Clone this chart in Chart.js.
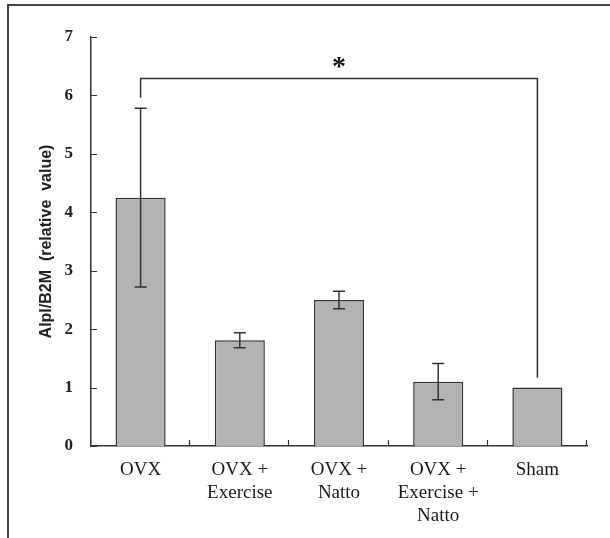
<!DOCTYPE html>
<html lang="en">
<head>
    <meta charset="UTF-8">
    <title>Alpl/B2M</title>
    <script src="https://cdn.jsdelivr.net/npm/chart.js"></script>
    <style>
        body {
            margin: 0;
            background: #fff;
        }
        .wrap {
            position: relative;
            width: 610px;
            height: 538px;
        }
        .frame {
            position: absolute;
            left: 7px;
            top: 4px;
            right: -10px;
            bottom: -10px;
            border-left: 2px solid #444;
            border-top: 2px solid #444;
            pointer-events: none;
        }
    </style>
</head>
<body>
<div class="wrap">
    <canvas id="chart" width="610" height="538"></canvas>
    <div class="frame"></div>
</div>

<script>
const categories = [['OVX'], ['OVX +', 'Exercise'], ['OVX +', 'Natto'], ['OVX +', 'Exercise +', 'Natto'], ['Sham']];
const means = [4.25, 1.81, 2.50, 1.10, 1.00];
const errors = [1.53, 0.13, 0.15, 0.31, 0];
const yTickLabels = ['0', '1', '2', '3', '4', '5', '6', '7'];

// significance bracket between OVX and Sham
const bracketFrom = 0;
const bracketTo = 4;
const bracketLevel = 6.29;
const bracketLeftEnd = 5.96;
const bracketRightEnd = 1.17;
const starLevel = 6.57;

const ink = '#333';

// error bars
const errorBars = {
    id: 'errorBars',
    afterDatasetsDraw(chart) {
        const ctx = chart.ctx;
        const x = chart.scales.x, y = chart.scales.y;
        ctx.save();
        ctx.strokeStyle = ink;
        ctx.lineWidth = 1.5;
        means.forEach((m, i) => {
            if (!errors[i]) return;
            const px = x.getPixelForValue(i);
            const top = y.getPixelForValue(m + errors[i]);
            const bot = y.getPixelForValue(m - errors[i]);
            ctx.beginPath();
            ctx.moveTo(px, top); ctx.lineTo(px, bot);
            ctx.moveTo(px - 6, top); ctx.lineTo(px + 6, top);
            ctx.moveTo(px - 6, bot); ctx.lineTo(px + 6, bot);
            ctx.stroke();
        });
        ctx.restore();
    }
};

// tick marks pointing into the plot
const innerTicks = {
    id: 'innerTicks',
    afterDraw(chart) {
        const ctx = chart.ctx;
        const x = chart.scales.x, y = chart.scales.y;
        const area = chart.chartArea;
        ctx.save();
        ctx.strokeStyle = ink;
        ctx.lineWidth = 1.2;
        ctx.beginPath();
        y.ticks.forEach(t => {
            const py = Math.round(y.getPixelForValue(t.value)) + 0.5;
            ctx.moveTo(area.left, py); ctx.lineTo(area.left + 6, py);
        });
        const half = (x.getPixelForValue(1) - x.getPixelForValue(0)) / 2;
        categories.forEach((c, i) => {
            const px = Math.round(x.getPixelForValue(i) + half) - 0.5;
            ctx.moveTo(px, area.bottom); ctx.lineTo(px, area.bottom - 6);
        });
        ctx.stroke();
        ctx.restore();
    }
};

// bracket and asterisk
const bracket = {
    id: 'bracket',
    afterDraw(chart) {
        const ctx = chart.ctx;
        const x = chart.scales.x, y = chart.scales.y;
        const x1 = x.getPixelForValue(bracketFrom);
        const x2 = x.getPixelForValue(bracketTo);
        const yl = y.getPixelForValue(bracketLevel);
        ctx.save();
        ctx.strokeStyle = ink;
        ctx.lineWidth = 1.5;
        ctx.beginPath();
        ctx.moveTo(x1, y.getPixelForValue(bracketLeftEnd));
        ctx.lineTo(x1, yl);
        ctx.lineTo(x2, yl);
        ctx.lineTo(x2, y.getPixelForValue(bracketRightEnd));
        ctx.stroke();
        ctx.fillStyle = '#111';
        ctx.font = 'bold 28px "Liberation Serif"';
        ctx.textAlign = 'center';
        ctx.textBaseline = 'middle';
        ctx.fillText('*', (x1 + x2) / 2, y.getPixelForValue(starLevel) + 6);
        ctx.restore();
    }
};

new Chart(document.getElementById('chart'), {
    type: 'bar',
    data: {
        labels: categories,
        datasets: [{
            data: means,
            backgroundColor: '#b3b3b3',
            borderColor: ink,
            borderWidth: 1.5,
            barPercentage: 0.505,
            categoryPercentage: 1
        }]
    },
    options: {
        responsive: false,
        animation: false,
        layout: { padding: { left: 30, right: 23, top: 37, bottom: 0 } },
        plugins: {
            legend: { display: false },
            tooltip: { enabled: false }
        },
        scales: {
            x: {
                grid: { display: false, drawTicks: false },
                border: { display: true, color: ink, width: 1.5 },
                ticks: {
                    color: '#1a1a1a',
                    padding: 13,
                    maxRotation: 0,
                    font: { family: '"Liberation Serif"', size: 19, lineHeight: 1.2 }
                },
                afterFit(scale) { scale.height = 92; }
            },
            y: {
                min: 0,
                max: 7,
                grid: { display: false, drawTicks: false },
                border: { display: true, color: ink, width: 1.5 },
                ticks: {
                    stepSize: 1,
                    padding: 18,
                    color: '#222',
                    font: { family: '"Liberation Serif"', size: 17, weight: 'bold' },
                    callback: (v) => yTickLabels[v]
                },
                title: {
                    display: true,
                    text: 'Alpl/B2M  (relative  value)',
                    color: '#222',
                    padding: { top: 7, bottom: 0 },
                    font: { family: '"Liberation Sans"', size: 16, weight: 'bold' }
                },
                afterFit(scale) { scale.width = 61; }
            }
        }
    },
    plugins: [errorBars, innerTicks, bracket]
});
</script>
</body>
</html>
